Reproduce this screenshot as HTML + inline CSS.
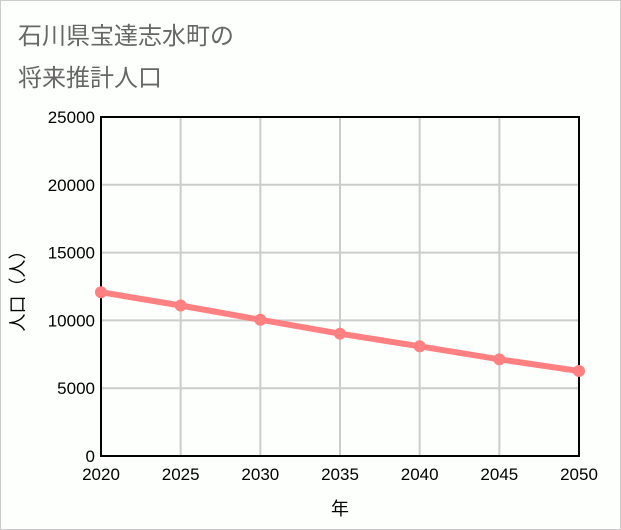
<!DOCTYPE html>
<html><head><meta charset="utf-8"><style>
body{margin:0;background:#fff;}
#wrap{position:relative;width:619px;height:528px;border:1px solid #ccc;background:#fdfffd;font-family:"Liberation Sans","Noto Sans CJK JP",sans-serif;}
.title{position:absolute;left:17px;font-size:24px;color:#666;}
</style></head><body>
<div id="wrap">
<div class="title" style="top:15px">石川県宝達志水町の</div>
<div class="title" style="top:57px">将来推計人口</div>
<svg id="chart" width="621" height="530" style="position:absolute;left:-1px;top:-1px"></svg>
</div>
<script>
const years=[2020,2025,2030,2035,2040,2045,2050];
const population=[12080,11100,10050,9020,8090,7130,6270];
const yTicks=[0,5000,10000,15000,20000,25000];
const NS='http://www.w3.org/2000/svg';
const svg=document.getElementById('chart');
const L=101,R=579,T=117,B=456;
const xs=v=>L+(v-2020)/30*(R-L);
const ys=v=>B-v/25000*(B-T);
function mk(t,a){const e=document.createElementNS(NS,t);for(const k in a)e.setAttribute(k,a[k]);svg.appendChild(e);return e;}
yTicks.forEach(v=>{
 const g=mk('line',{x1:L,x2:R,y1:ys(v),y2:ys(v),stroke:'#ccc','stroke-width':2});
 
 
 const t=mk('text',{x:L-6,y:ys(v)+6,'text-anchor':'end','font-size':17,fill:'#000'});
 t.textContent=v;
 
 
});
years.forEach(v=>{
 const g=mk('line',{x1:xs(v),x2:xs(v),y1:T,y2:B,stroke:'#ccc','stroke-width':2});
 
 
 const t=mk('text',{x:xs(v),y:B+24,'text-anchor':'middle','font-size':17,fill:'#000'});
 t.textContent=v;
 
 
});
const frame=mk('rect',{x:L,y:T,width:R-L,height:B-T,fill:'none',stroke:'#000','stroke-width':2});


const line=mk('polyline',{points:years.map((y,i)=>xs(y)+','+ys(population[i])).join(' '),fill:'none',stroke:'#ff8080','stroke-width':6});


years.forEach((y,i)=>{
 const c=mk('circle',{cx:xs(y),cy:ys(population[i]),r:6,fill:'#ff8080'});
 
 
});
const xt=mk('text',{x:(L+R)/2,y:515,'text-anchor':'middle','font-size':18,fill:'#000'});
xt.textContent='年';


const yt=mk('text',{x:0,y:0,'text-anchor':'middle','font-size':18,fill:'#000',transform:'translate(24,'+((T+B)/2)+') rotate(-90)'});
yt.textContent='人口（人）';


</script>
</body></html>
